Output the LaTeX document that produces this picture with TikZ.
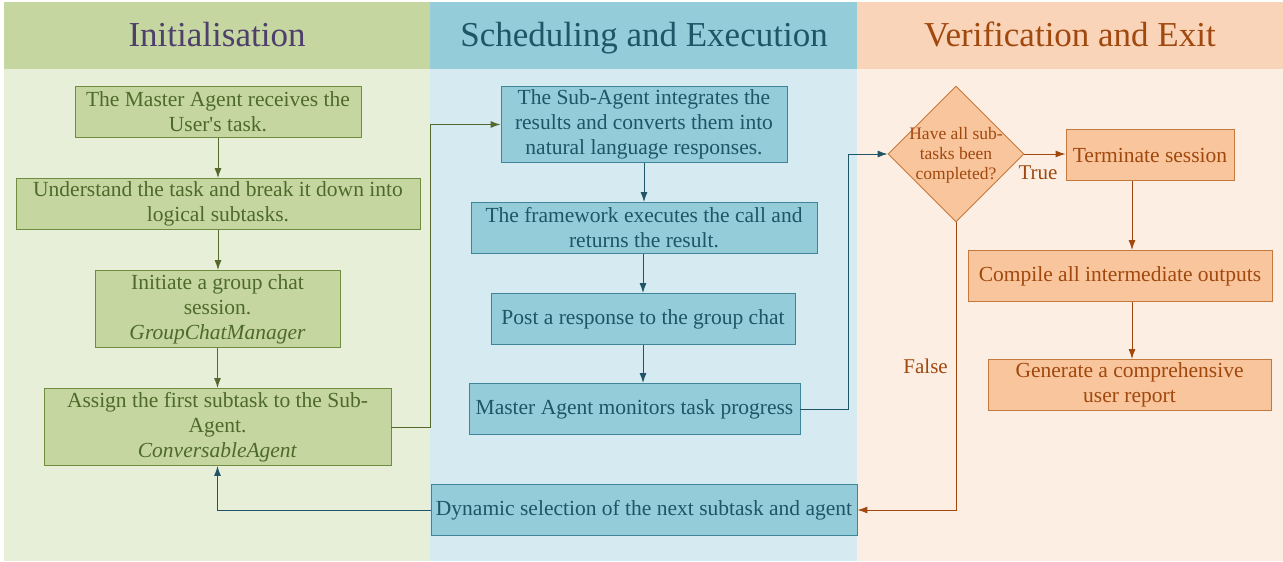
\documentclass[tikz,border=0pt]{standalone}
\usepackage{fontspec}
\setmainfont{Liberation Serif}
\newfontfamily\plainrm{Liberation Serif}
\usetikzlibrary{shapes.geometric,arrows.meta}
\definecolor{gH}{HTML}{C5D6A0}
\definecolor{gB}{HTML}{E7EFD9}
\definecolor{gF}{HTML}{C5D6A0}
\definecolor{gD}{HTML}{6F8C40}
\definecolor{gT}{HTML}{4E6A2A}
\definecolor{gA}{HTML}{55692E}
\definecolor{tG}{HTML}{4F3F6C}
\definecolor{bH}{HTML}{94CCDA}
\definecolor{bB}{HTML}{D5EBF1}
\definecolor{bF}{HTML}{94CCDA}
\definecolor{bD}{HTML}{3E8597}
\definecolor{bT}{HTML}{1F5566}
\definecolor{oH}{HTML}{FAD4B8}
\definecolor{oB}{HTML}{FDEEE3}
\definecolor{oF}{HTML}{F9C59C}
\definecolor{oD}{HTML}{C47A3E}
\definecolor{oT}{HTML}{A0480E}
\tikzset{
  boxbase/.style={align=center, inner sep=0pt, line width=0.9pt, font=\fontsize{21.5}{25}\selectfont},
  gbox/.style={boxbase, draw=gD, fill=gF, text=gT},
  bbox/.style={boxbase, draw=bD, fill=bF, text=bT},
  obox/.style={boxbase, draw=oD, fill=oF, text=oT},
  title/.style={font=\fontsize{35}{40}\selectfont, anchor=base, inner sep=0pt},
  conn/.style={line width=1pt, -{Latex[length=10pt,width=7pt]}},
  garrow/.style={conn, draw=gA},
  barrow/.style={conn, draw=bT},
  oarrow/.style={conn, draw=oT},
  lbl/.style={font=\fontsize{21}{24}\selectfont, text=oT, inner sep=0pt}
}
\begin{document}
\begin{tikzpicture}[x=1pt,y=-1pt]
\useasboundingbox (0,0) rectangle (1283,562);
\fill[white] (0,0) rectangle (1283,562);
% columns
\fill[gH] (4,2) rectangle (430,69);
\fill[gB] (4,69) rectangle (430,561);
\fill[bH] (430,2) rectangle (857,69);
\fill[bB] (430,69) rectangle (857,561);
\fill[oH] (857,2) rectangle (1283,69);
\fill[oB] (857,69) rectangle (1283,561);
\node[title, text=tG] (t1) at (217,46.5) {Initialisation};
\node[title, text=bT] (t2) at (644,46.5) {Scheduling and Execution};
\node[title, text=oT] (t3) at (1070,46.5) {Verification and Exit};
% green
\node[gbox, minimum width=286pt, minimum height=51pt] (g1) at (218,112) {The Master Agent receives the\\User{\plainrm '}s task.};
\node[gbox, minimum width=404pt, minimum height=51pt] (g2) at (218,204) {Understand the task and break it down into\\logical subtasks.};
\node[gbox, minimum width=245pt, minimum height=77pt] (g3) at (217.5,309) {Initiate a group chat\\session.\\\textit{GroupChatManager}};
\node[gbox, minimum width=347pt, minimum height=77pt] (g4) at (217.5,427) {Assign the first subtask to the Sub-\\Agent.\\\textit{ConversableAgent}};
% blue
\node[bbox, minimum width=286pt, minimum height=76pt] (b1) at (644,124.5) {The Sub-Agent integrates the\\results and converts them into\\natural language responses.};
\node[bbox, minimum width=346pt, minimum height=51pt] (b2) at (644,228) {The framework executes the call and\\returns the result.};
\node[bbox, minimum width=304pt, minimum height=51pt] (b3) at (643,319) {Post a response to the group chat};
\node[bbox, minimum width=331pt, minimum height=51pt] (b4) at (634.5,409) {Master Agent monitors task progress};
\node[bbox, minimum width=426pt, minimum height=51pt] (b5) at (644,510) {Dynamic selection of the next subtask and agent};
% orange
\node[diamond, aspect=1, draw=oD, fill=oF, line width=0.9pt, inner sep=0pt, minimum width=136pt, minimum height=136pt] (d) at (956,154) {};
\node[text=oT, align=center, inner sep=0pt, font=\fontsize{17.5}{20}\selectfont] (dt) at (956,155) {Have all sub-\\tasks been\\completed?};
\node[obox, minimum width=168pt, minimum height=51pt] (o1) at (1150,155) {Terminate session};
\node[obox, minimum width=304pt, minimum height=51pt] (o2) at (1120,276) {Compile all intermediate outputs};
\node[obox, minimum width=283pt, minimum height=51pt] (o3) at (1129.5,385) {Generate a comprehensive\\user report};
\coordinate (ox) at (1132,0);
% connectors
\draw[garrow] (g1.south) -- (g1.south |- g2.north);
\draw[garrow] (g2.south) -- (g2.south |- g3.north);
\draw[garrow] (g3.south) -- (g3.south |- g4.north);
\draw[garrow] (g4.east) -- ++(39,0) |- (b1.west);
\draw[barrow] (b1.south) -- (b1.south |- b2.north);
\draw[barrow] (b3.north |- b2.south) -- (b3.north);
\draw[barrow] (b3.south) -- (b3.south |- b4.north);
\draw[barrow] (b4.east) -- ++(48,0) |- (d.west);
\draw[oarrow] (d.east) -- (d.east -| o1.west);
\node[lbl] (tl) at (1038,173) {True};
\draw[oarrow] (o1.south -| ox) -- (o2.north -| ox);
\draw[oarrow] (o2.south -| ox) -- (o3.north -| ox);
\draw[oarrow] (d.south) -- (d.south |- b5.east) -- (b5.east);
\node[lbl, anchor=east] (fl) at (948,366) {False};
\draw[barrow] (b5.west) -| (g4.south);
\end{tikzpicture}
\end{document}
